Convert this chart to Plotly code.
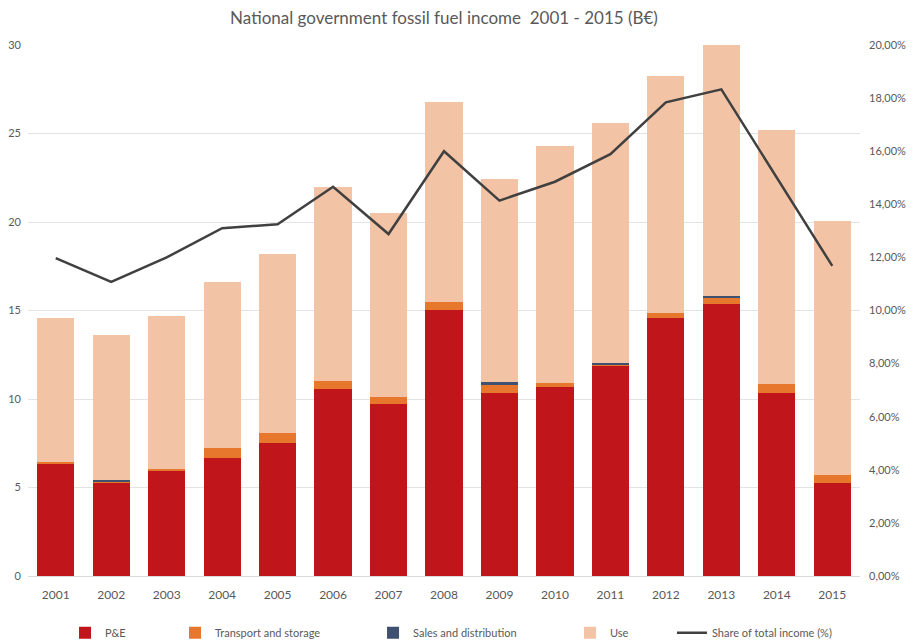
import plotly.graph_objects as go

years = ["2001", "2002", "2003", "2004", "2005", "2006", "2007", "2008",
         "2009", "2010", "2011", "2012", "2013", "2014", "2015"]
pe = [6.35, 5.30, 5.95, 6.65, 7.51, 10.56, 9.73, 15.03, 10.36, 10.66, 11.92, 14.58, 15.35, 10.34, 5.24]
transport = [0.08, 0.06, 0.10, 0.60, 0.57, 0.47, 0.40, 0.45, 0.47, 0.23, 0.04, 0.28, 0.40, 0.49, 0.45]
sales = [0.0, 0.05, 0.0, 0.0, 0.0, 0.0, 0.0, 0.0, 0.11, 0.0, 0.08, 0.0, 0.09, 0.0, 0.0]
use = [8.17, 8.19, 8.65, 9.35, 10.12, 10.92, 10.37, 11.32, 11.51, 13.41, 13.56, 13.39, 14.16, 14.37, 14.37]
share = [0.1197, 0.1108, 0.1200, 0.1310, 0.1325, 0.1466, 0.1288, 0.1600, 0.1414, 0.1485,
         0.1589, 0.1784, 0.1833, 0.1500, 0.1168]

FONT = "Lato, 'Open Sans', sans-serif"
GREY = "#595959"

fig = go.Figure()
fig.add_trace(go.Bar(x=years, y=pe, name="P&E", marker=dict(color="#C0161B", line_width=0),
                     legend="legend", showlegend=True))
fig.add_trace(go.Bar(x=years, y=transport, name="Transport and storage", marker=dict(color="#E8772E", line_width=0),
                     legend="legend2", showlegend=True))
fig.add_trace(go.Bar(x=years, y=sales, name="Sales and distribution", marker=dict(color="#3F5070", line_width=0),
                     legend="legend3", showlegend=True))
fig.add_trace(go.Bar(x=years, y=use, name="Use", marker=dict(color="#F2C3A5", line_width=0),
                     legend="legend4", showlegend=True))
fig.add_trace(go.Scatter(x=years, y=share, name="Share of total income (%)", mode="lines",
                         line=dict(color="#404040", width=2.5), yaxis="y2", legend="legend5", showlegend=True))

legend_x = [0.0445, 0.1767, 0.4147, 0.6514, 0.774]
leg_common = dict(orientation="h", y=-0.107, yanchor="middle", xanchor="left",
                  font=dict(family=FONT, size=11, color=GREY), bgcolor="rgba(0,0,0,0)",
                  itemwidth=30, visible=True)

# the page body adds an 8px offset, so the figure is sized to fit the window exactly
fig.update_layout(
    width=907, height=635,
    margin=dict(l=20, r=55, t=37, b=67, autoexpand=False),
    paper_bgcolor="white", plot_bgcolor="white",
    separators=",.",
    showlegend=True,
    barmode="stack", bargap=0.33,
    title=dict(text="National government fossil fuel income  2001 - 2015 (B€)",
               x=0.5, xref="paper", xanchor="center", y=1 - 10 / 635, yref="container", yanchor="middle",
               font=dict(family=FONT, size=17, color=GREY)),
    font=dict(family=FONT, color=GREY),
    xaxis=dict(type="category", tickfont=dict(size=12, color=GREY), showgrid=False,
               showline=True, linecolor="#D9D9D9", linewidth=1, ticks="",
               automargin=False, ticklabelstandoff=8),
    yaxis=dict(range=[0, 30], dtick=5, tickfont=dict(size=11, color=GREY), showgrid=True,
               gridcolor="#E3E3E3", gridwidth=1, zeroline=False, ticks="", showline=False,
               automargin=False, ticklabelstandoff=6),
    yaxis2=dict(range=[0, 0.20], dtick=0.02, tickformat=".2%", overlaying="y", side="right",
                tickfont=dict(size=11, color=GREY), showgrid=False, zeroline=False, ticks="", showline=False,
                automargin=False, ticklabelstandoff=8),
    legend=dict(x=legend_x[0], **leg_common),
    legend2=dict(x=legend_x[1], **leg_common),
    legend3=dict(x=legend_x[2], **leg_common),
    legend4=dict(x=legend_x[3], **leg_common),
    legend5=dict(x=legend_x[4], **leg_common),
)

fig.write_html("out.html")
